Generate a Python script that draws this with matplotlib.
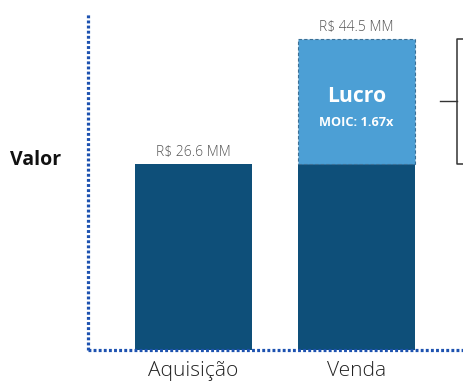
import matplotlib
matplotlib.use('Agg')
import matplotlib.pyplot as plt

plt.rcParams['font.family'] = ['Open Sans', 'DejaVu Sans']

categories = ['Aquisição', 'Venda']
base_values = [26.6, 26.6]
profit_values = [0.0, 17.9]
total_labels = ['R$ 26.6 MM', 'R$ 44.5 MM']
moic = 1.67

dark = '#0e4f79'
light = '#4c9fd5'
axis_blue = '#1d52b0'

fig = plt.figure(figsize=(4.64, 3.83), dpi=100)
ax = fig.add_axes([88 / 464, 33 / 383, 376 / 464, 336 / 383])

x = list(range(len(categories)))
ax.bar(x, base_values, width=0.718, color=dark, zorder=2)
ax.bar(x[1], profit_values[1], bottom=base_values[1], width=0.718, color=light,
       edgecolor='#3b6f95', linestyle=(0, (3, 2)), linewidth=0.8, zorder=2)

totals = [b + p for b, p in zip(base_values, profit_values)]
for xi, t, lab in zip(x, totals, total_labels):
    ax.text(xi, t + 0.5, lab, ha='center', va='bottom', fontsize=10, color='#555555',
            fontweight='light')

mid = base_values[1] + profit_values[1] / 2
ax.text(x[1], mid + 0.6, 'Lucro', ha='center', va='center', fontsize=15.2,
        fontweight='bold', color='white')
ax.text(x[1], mid - 3.0, f'MOIC: {moic:.2f}x', ha='center', va='center', fontsize=9.2,
        fontweight='bold', color='white')

# bracket next to the profit segment
bx = 1.617
ax.plot([bx + 0.2, bx, bx, bx + 0.2], [totals[1], totals[1], base_values[1], base_values[1]],
        color='#333333', linewidth=1.1, clip_on=False, zorder=3)
ax.plot([1.512, bx], [mid, mid], color='#333333', linewidth=1.0, clip_on=False, zorder=3)

ax.set_xlim(-0.647, 1.66)
ax.set_ylim(0, 48)
ax.set_xticks(x)
ax.set_xticklabels(categories, fontsize=15, color='#222222', fontweight='light')
ax.tick_params(axis='x', length=0, pad=8)
ax.set_yticks([])

for side in ['top', 'right']:
    ax.spines[side].set_visible(False)
for side in ['left', 'bottom']:
    sp = ax.spines[side]
    sp.set_color(axis_blue)
    sp.set_linewidth(2.3)
    sp.set_linestyle((0, (0.9, 0.7)))
    sp.set_capstyle('butt')

fig.text(36 / 464, 1 - 160 / 383, 'Valor', ha='center', va='center', fontsize=14,
         fontweight='bold', color='#111111')

fig.savefig('out.png', dpi=100)
